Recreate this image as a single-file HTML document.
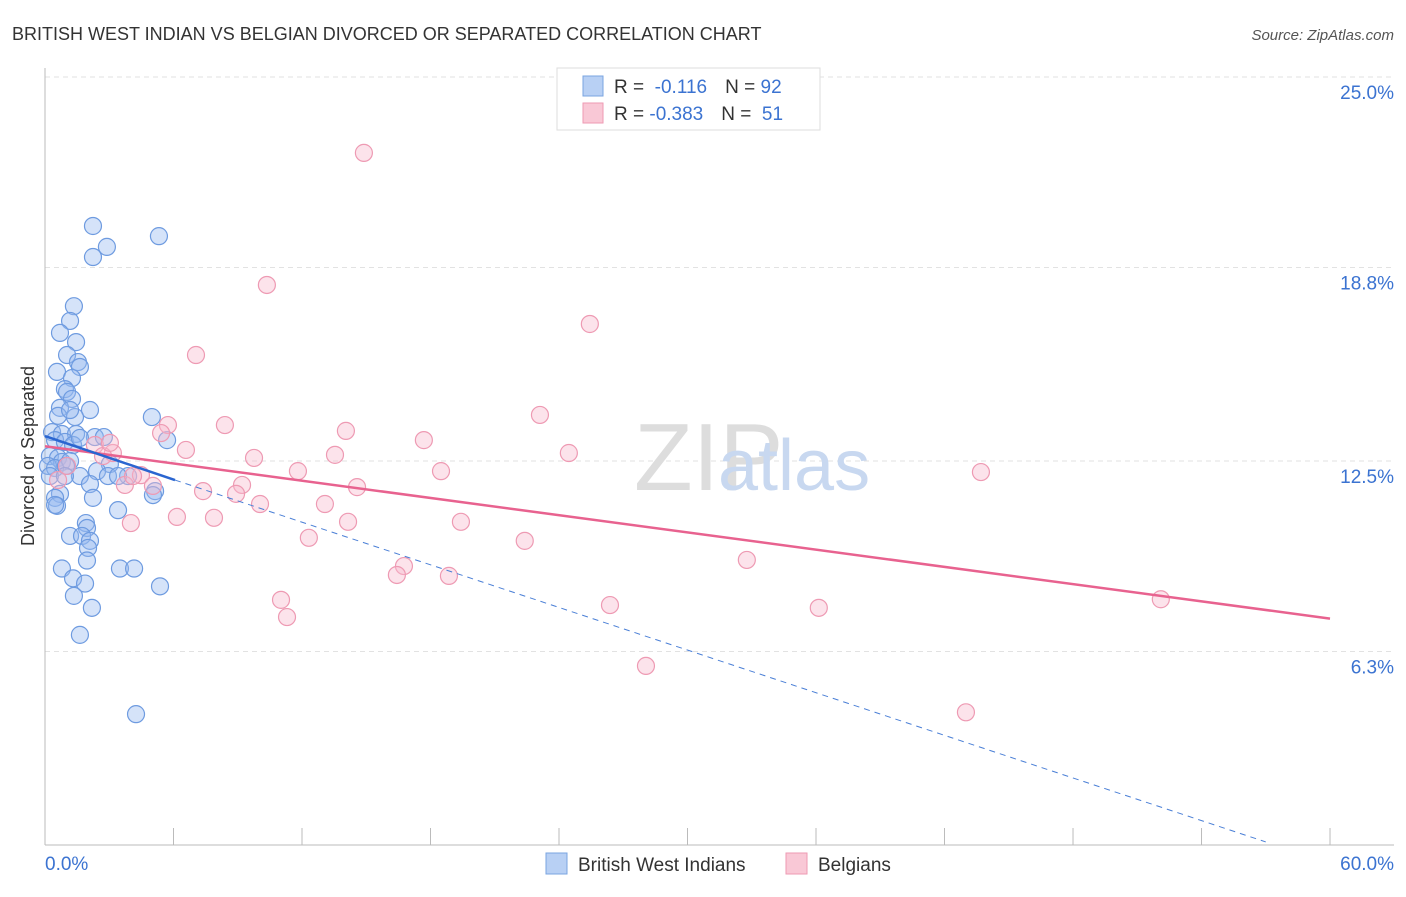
<!DOCTYPE html>
<html><head><meta charset="utf-8"><style>
body{margin:0;background:#fff;font-family:"Liberation Sans",sans-serif;}
svg text{font-family:"Liberation Sans",sans-serif;}
</style></head><body>
<svg width="1406" height="892">
<text x="12" y="40" font-size="18" fill="#333">BRITISH WEST INDIAN VS BELGIAN DIVORCED OR SEPARATED CORRELATION CHART</text>
<text x="1394" y="40" font-size="15" fill="#555" text-anchor="end" font-style="italic">Source: ZipAtlas.com</text>
<g id="grid"></g>
<text x="634" y="490" font-size="96" fill="#ddd" font-family="Liberation Serif">ZIP</text>
<text x="718" y="490" font-size="72" fill="#c8d8f0">atlas</text>
<line x1="45" y1="68" x2="45" y2="845" stroke="#bbb"/>
<line x1="45" y1="845" x2="1394" y2="845" stroke="#bbb"/>
<text x="34" y="456" font-size="18" fill="#333" text-anchor="middle" transform="rotate(-90 34 456)">Divorced or Separated</text>
<text x="45" y="870" font-size="19" fill="#3b73d1">0.0%</text>
<text x="1394" y="870" font-size="19" fill="#3b73d1" text-anchor="end">60.0%</text>
<g id="points"></g>
<g id="lines"></g>
<g>
<rect x="557" y="68" width="263" height="62" fill="#fff" stroke="#ddd"/>
<rect x="583" y="76" width="20" height="20" fill="#b8d0f4" stroke="#7aa4e0"/>
<rect x="583" y="103" width="20" height="20" fill="#f9c8d6" stroke="#ee9ab3"/>
<text x="614" y="93" font-size="19" fill="#333">R = <tspan fill="#3b73d1">&#160;-0.116</tspan><tspan dx="18">N = </tspan><tspan fill="#3b73d1">92</tspan></text>
<text x="614" y="120" font-size="19" fill="#333">R = <tspan fill="#3b73d1">-0.383</tspan><tspan dx="18">N = </tspan><tspan fill="#3b73d1">&#160;51</tspan></text>
</g>
<g>
<rect x="546" y="853" width="21" height="21" fill="#b8d0f4" stroke="#7aa4e0"/>
<text x="578" y="871" font-size="19" fill="#333">British West Indians</text>
<rect x="786" y="853" width="21" height="21" fill="#f9c8d6" stroke="#ee9ab3"/>
<text x="818" y="871" font-size="19" fill="#333">Belgians</text>
</g>
</svg>
<script>
const yTicks=[25.0,18.8,12.5,6.3];
const yTickLabels=["25.0%","18.8%","12.5%","6.3%"];
const xTicks=[6,12,18,24,30,36,42,48,54,60];
const blueX=[2.24,2.89,2.24,5.32,1.35,1.17,0.70,1.45,1.03,1.54,1.63,0.56,1.26,0.93,1.03,1.26,2.10,0.70,0.61,1.40,1.17,4.99,5.70,0.33,0.79,1.45,2.33,2.75,0.47,0.93,1.31,1.63,0.23,0.61,0.79,1.17,0.14,0.47,0.98,3.03,2.43,2.94,3.88,3.41,1.63,2.10,0.70,0.47,2.24,5.14,5.04,0.56,3.41,1.91,1.96,1.17,1.73,2.10,2.01,1.96,0.79,3.50,4.16,1.31,1.87,1.35,5.37,2.19,1.63,4.25,0.47,0.23,0.93];
const blueY=[20.15,19.47,19.14,19.82,17.54,17.06,16.67,16.37,15.95,15.72,15.56,15.40,15.20,14.84,14.75,14.52,14.16,14.23,13.97,13.93,14.16,13.93,13.18,13.44,13.38,13.38,13.28,13.28,13.18,13.12,13.02,13.25,12.66,12.60,12.47,12.50,12.34,12.27,12.34,12.40,12.17,12.01,12.01,12.01,12.01,11.75,11.43,11.30,11.30,11.52,11.39,11.04,10.90,10.48,10.32,10.06,10.06,9.90,9.67,9.26,9.00,9.00,9.00,8.68,8.51,8.11,8.42,7.72,6.84,4.26,11.07,12.01,12.01];
const pinkX=[14.89,10.36,25.44,7.05,23.11,8.40,5.74,14.05,5.42,17.69,6.58,9.76,13.54,2.33,3.17,24.46,2.71,18.49,11.81,43.70,4.48,3.73,9.20,14.57,5.04,7.38,8.92,10.04,13.07,6.16,7.89,4.01,14.15,19.42,12.32,22.40,32.77,16.76,16.43,18.86,11.02,26.38,36.13,11.30,52.10,28.06,43.00,0.61,1.03,3.03,4.11];
const pinkY=[22.53,18.23,16.96,15.95,14.00,13.67,13.67,13.48,13.41,13.18,12.86,12.60,12.70,13.02,12.76,12.76,12.66,12.17,12.17,12.14,12.04,11.72,11.72,11.65,11.69,11.52,11.43,11.10,11.10,10.68,10.65,10.48,10.52,10.52,10.00,9.90,9.28,9.08,8.79,8.76,7.98,7.81,7.72,7.42,8.00,5.83,4.32,11.88,12.34,13.09,12.01];
const pinkLine=[0,12.98,60,7.37];
const blueLine=[0,13.31,6.07,11.88];
const blueDashEnd=[57,0.1];
const X=v=>45+v*21.417, Y=v=>845-v*30.72;
const NS="http://www.w3.org/2000/svg";
function mk(t,a,p){const e=document.createElementNS(NS,t);for(const k in a)e.setAttribute(k,a[k]);p.appendChild(e);return e;}
const grid=document.getElementById('grid');
yTicks.forEach((v,i)=>{
 const l=mk('line',{x1:45,x2:1394,y1:Y(v),y2:Y(v),stroke:'#e2e2e2','stroke-dasharray':'5,4'},grid);
 
 
 const t=mk('text',{x:1394,y:Y(v)+22,'font-size':19,fill:'#3b73d1','text-anchor':'end'},grid);
 t.textContent=yTickLabels[i];
 
 
});
xTicks.forEach(v=>{
 const l=mk('line',{x1:X(v),x2:X(v),y1:828,y2:845,stroke:'#bbb'},grid);
 
 
});
const pts=document.getElementById('points');
blueX.forEach((x,i)=>{
 const c=mk('circle',{cx:X(x),cy:Y(blueY[i]),r:8.5,fill:'rgba(150,185,240,0.4)',stroke:'#6e9be0','stroke-width':1.2},pts);
 
 
});
pinkX.forEach((x,i)=>{
 const c=mk('circle',{cx:X(x),cy:Y(pinkY[i]),r:8.5,fill:'rgba(248,185,205,0.4)',stroke:'#ee9ab3','stroke-width':1.2},pts);
 
 
});
const ln=document.getElementById('lines');
let a=mk('line',{x1:X(pinkLine[0]),y1:Y(pinkLine[1]),x2:X(pinkLine[2]),y2:Y(pinkLine[3]),stroke:'#e8628f','stroke-width':2.5},ln);


a=mk('line',{x1:X(blueLine[2]),y1:Y(blueLine[3]),x2:X(blueDashEnd[0]),y2:Y(blueDashEnd[1]),stroke:'#4a7fd6','stroke-width':1,'stroke-dasharray':'6,5'},ln);


a=mk('line',{x1:X(blueLine[0]),y1:Y(blueLine[1]),x2:X(blueLine[2]),y2:Y(blueLine[3]),stroke:'#2a65d0','stroke-width':2.5},ln);


</script>
</body></html>
